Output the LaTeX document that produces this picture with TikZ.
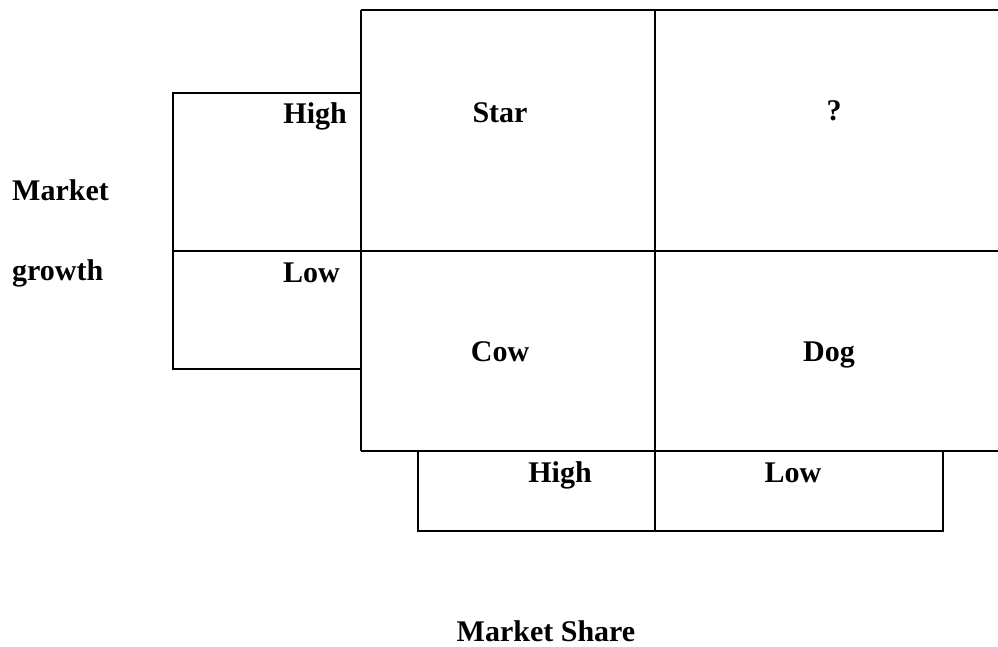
\documentclass[tikz,border=0pt]{standalone}
\usepackage{fontspec}
\setmainfont{Liberation Serif}
\usetikzlibrary{positioning}
\tikzstyle{gridline} = [draw=black, line width=1.2pt]
\tikzstyle{lbl} = [font=\bfseries\fontsize{30}{34}\selectfont,
inner sep=0pt,
anchor=base]

\begin{document}
\begin{tikzpicture}[x=1pt, y=-1pt]
		\useasboundingbox (0,0) rectangle (998,646);
		% matrix corners
		\coordinate (tl) at (361,10);
		\coordinate (tr) at (998,10);
		\coordinate (ml) at (173,251);
		\coordinate (mr) at (998,251);
		\coordinate (bl) at (361,451);
		\coordinate (br) at (998,451);
		\coordinate (tm) at (655,10);
		\coordinate (bm) at (655,531);
		% side box
		\coordinate (st) at (173,93);
		\coordinate (sb) at (173,369);
		\coordinate (stm) at (361,93);
		\coordinate (sbm) at (361,369);
		% bottom box
		\coordinate (ul) at (418,451);
		\coordinate (ur) at (943,451);
		\coordinate (dl) at (418,531);
		\coordinate (dr) at (943,531);
		
		\draw [gridline] (tl) -- (tr);
		\draw [gridline] (ml) -- (mr);
		\draw [gridline] (bl) -- (br);
		\draw [gridline] (tl) -- (bl);
		\draw [gridline] (tm) -- (bm);
		\draw [gridline] (stm) -- (st) -- (sb) -- (sbm);
		\draw [gridline] (ul) -- (dl) -- (dr) -- (ur);
		
		\node (star) [lbl] at (500,122) {Star};
		\node (quest) [lbl] at (834,120) {?};
		\node (cow) [lbl] at (500,361) {Cow};
		\node (dog) [lbl] at (829,361) {Dog};
		
		\node (ghigh) [lbl, anchor=base east] at (347,123) {High};
		\node (glow) [lbl, anchor=base west] at (283,282) {Low};
		\node (mkt) [lbl, anchor=base west] at (12,200) {Market};
		\node (growth) [lbl, anchor=base west] at (12,280) {growth};
		
		\node (shigh) [lbl] at (560,482) {High};
		\node (slow) [lbl] at (793,482) {Low};
		\node (share) [lbl] at (546,641) {Market Share};
	\end{tikzpicture}
\end{document}
